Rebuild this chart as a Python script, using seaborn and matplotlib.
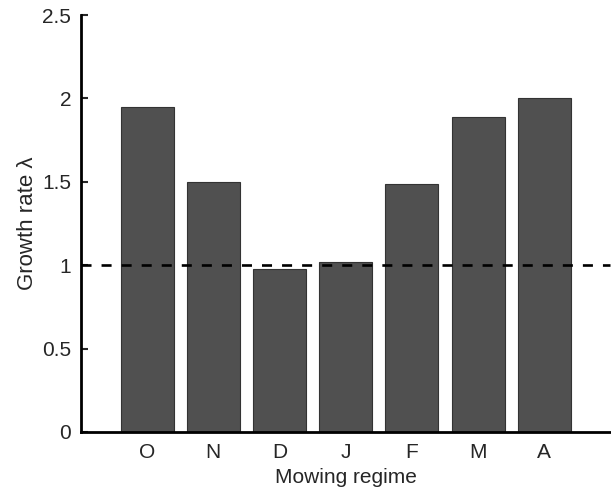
import pandas as pd
import matplotlib
matplotlib.use("Agg")
import matplotlib.pyplot as plt
import seaborn as sns

regimes = ["O", "N", "D", "J", "F", "M", "A"]
growth = [1.95, 1.50, 0.975, 1.02, 1.49, 1.89, 2.00]
y_ticks = [0, 0.5, 1, 1.5, 2, 2.5]
y_tick_labels = ["0", "0.5", "1", "1.5", "2", "2.5"]

df = pd.DataFrame({"regime": regimes, "growth": growth})

sns.set_style("white")
plt.rcParams["font.family"] = ["Liberation Sans", "DejaVu Sans"]

fig = plt.figure(figsize=(6.11, 4.88), dpi=100)
ax = fig.add_axes([0.1326, 0.1148, 0.8664, 0.8542])

sns.barplot(x="regime", y="growth", data=df, color="#505050",
            edgecolor="#333333", linewidth=0.8, width=0.8, saturation=1, ax=ax)
ax.axhline(1, color="black", linestyle=(0, (3.8, 3.8)), linewidth=1.9, clip_on=False)

ax.set_xlim(-1, 7)
ax.set_ylim(0, 2.5)
ax.set_yticks(y_ticks)
ax.set_yticklabels(y_tick_labels)
ax.tick_params(axis="y", direction="in", length=5, width=1.5, left=True,
               labelsize=15, pad=7)
ax.tick_params(axis="x", length=0, labelsize=15, pad=8)
ax.set_xlabel("Mowing regime", fontsize=15, labelpad=4)
ax.set_ylabel("Growth rate λ", fontsize=16, labelpad=3)

sns.despine(ax=ax)
for side in ["left", "bottom"]:
    ax.spines[side].set_linewidth(2)
    ax.spines[side].set_color("black")

fig.savefig("out.png", dpi=100)
